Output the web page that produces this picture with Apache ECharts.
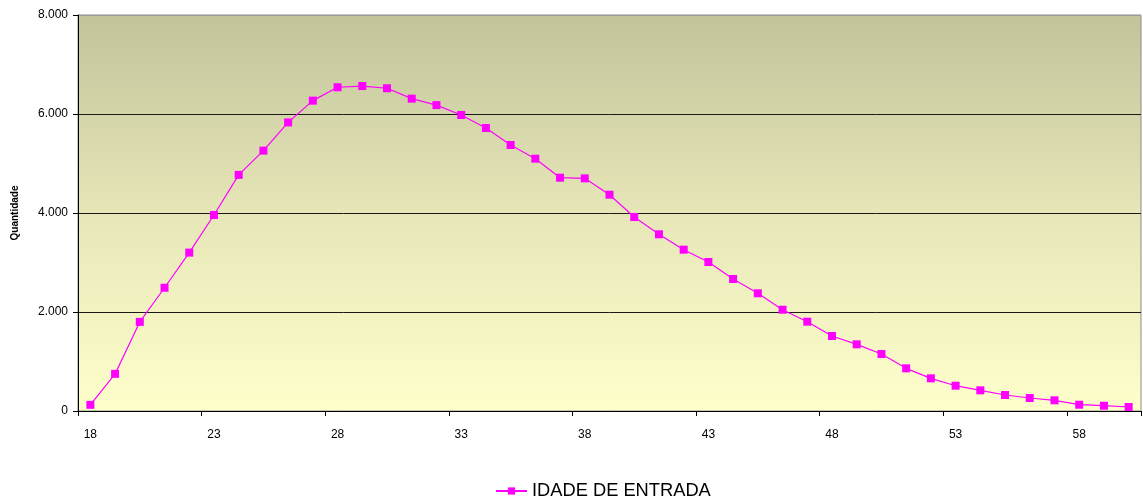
<!DOCTYPE html>
<html>
<head>
<meta charset="utf-8">
<script src="https://cdn.jsdelivr.net/npm/echarts@6/dist/echarts.min.js"></script>
<style>
html,body{margin:0;padding:0;background:#fff;}
#chart{width:1143px;height:504px;}
</style>
</head>
<body>
<div id="chart"></div>
<script>
const ages = [18,19,20,21,22,23,24,25,26,27,28,29,30,31,32,33,34,35,36,37,38,39,40,41,42,43,44,45,46,47,48,49,50,51,52,53,54,55,56,57,58,59,60];
const quantidade = [125,750,1800,2490,3200,3960,4770,5260,5830,6270,6540,6565,6520,6310,6180,5980,5717,5374,5097,4713,4700,4370,3919,3570,3259,3010,2667,2378,2046,1804,1515,1347,1152,862,660,511,418,323,263,216,127,107,81];
const seriesName = 'IDADE DE ENTRADA';
const yTitle = 'Quantidade';

const chart = echarts.init(document.getElementById('chart'), null, {renderer:'canvas'});
const fontFamily = '"Liberation Sans", Arial, sans-serif';
chart.setOption({
  animation: false,
  backgroundColor: '#ffffff',
  textStyle: {fontFamily: fontFamily},
  grid: {
    left: 78, right: 2, top: 15, bottom: 93,
    show: true,
    borderColor: '#8c8c8c',
    borderWidth: 1,
    backgroundColor: new echarts.graphic.LinearGradient(0,0,0,1,[
      {offset:0, color:'#c2c39a'},
      {offset:0.5, color:'#e6e6b8'},
      {offset:1, color:'#ffffcc'}
    ])
  },
  legend: {
    top: 482,
    left: 495,
    padding: 0,
    itemWidth: 31,
    itemHeight: 9,
    itemGap: 4,
    textStyle: {fontSize: 18.3, color: '#000', fontFamily: fontFamily, padding: [0,0,0,0]},
    data: [seriesName]
  },
  xAxis: {
    type: 'category',
    data: ages,
    boundaryGap: true,
    axisLine: {show: true, lineStyle: {color: '#000', width: 1}},
    axisTick: {show: true, interval: 4, length: 5, lineStyle: {color: '#000'}},
    axisLabel: {interval: 4, fontSize: 12, color: '#000', margin: 18, fontFamily: fontFamily},
    splitLine: {show: false}
  },
  yAxis: {
    type: 'value',
    min: 0, max: 8000, interval: 2000,
    name: yTitle,
    nameLocation: 'middle',
    nameGap: 58,
    nameRotate: 90,
    nameTextStyle: {fontSize: 10, fontWeight: 'bold', color: '#000', fontFamily: fontFamily},
    axisLine: {show: true, lineStyle: {color: '#000', width: 1}},
    axisTick: {show: true, length: 5, lineStyle: {color: '#000'}},
    axisLabel: {
      fontSize: 12, color: '#000', margin: 10, fontFamily: fontFamily,
      formatter: v => String(v).replace(/\B(?=(\d{3})+(?!\d))/g, '.')
    },
    splitLine: {show: true, lineStyle: {color: ['#000','#1a1a1a','#1a1a1a','#1a1a1a','#9a9a9a'], width: 1}}
  },
  series: [{
    name: seriesName,
    type: 'line',
    data: quantidade,
    symbol: 'rect',
    symbolSize: 8,
    showSymbol: true,
    itemStyle: {color: '#ff00ff'},
    lineStyle: {color: '#ff00ff', width: 1.2}
  }]
});
</script>
</body>
</html>
